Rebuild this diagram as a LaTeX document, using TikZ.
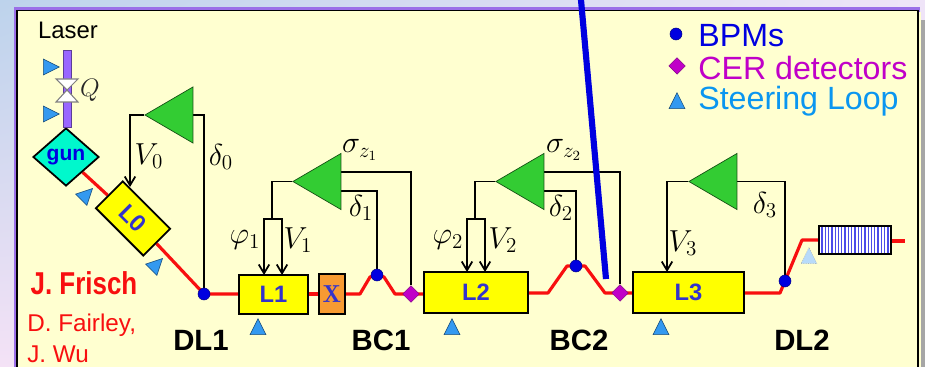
\documentclass[tikz,border=0pt]{standalone}
\usepackage{fontspec}
\usepackage{amsmath,amssymb}
\usepackage{xcolor}
\setmainfont{Liberation Sans}
\usetikzlibrary{arrows.meta,shapes.geometric,calc,backgrounds,shadings}
\definecolor{framefill}{HTML}{FFFFD0}
\definecolor{framelilac}{HTML}{9B6FE8}
\definecolor{gunteal}{HTML}{00F8CC}
\definecolor{laserviolet}{HTML}{9966FF}
\definecolor{ampgreen}{HTML}{33CC33}
\definecolor{steerblue}{HTML}{3399F0}
\definecolor{cavyellow}{HTML}{FFFF00}
\definecolor{xorange}{HTML}{F79A32}
\definecolor{labblue}{HTML}{3333CC}
\definecolor{beamred}{HTML}{F80F0F}
\definecolor{bpmblue}{HTML}{0000E0}
\definecolor{cerpurple}{HTML}{C000C8}
\definecolor{steertext}{HTML}{0A96F0}
\definecolor{slidetl}{HTML}{BDD3EC}
\definecolor{slidetr}{HTML}{EFE4F8}
\definecolor{slidebl}{HTML}{F4E2F6}

\begin{document}
\begin{tikzpicture}[
  x=0.02cm, y=-0.02cm,
  every node/.style={align=center},
  cavbox/.style={rectangle, draw=black, line width=1.1pt, fill=cavyellow,
                 font=\fontsize{13.5}{15}\selectfont\bfseries\color{labblue},
                 inner sep=0pt},
  ampbox/.style={isosceles triangle, isosceles triangle stretches, shape border rotate=180,
                 minimum height=0.96cm, minimum width=1.12cm, fill=ampgreen,
                 draw=black!60!ampgreen, line width=0.4pt, inner sep=0pt, anchor=apex},
  steerbox/.style={isosceles triangle, isosceles triangle stretches, minimum height=0.32cm,
                   minimum width=0.32cm, fill=steerblue, draw=black!50!steerblue,
                   line width=0.3pt, inner sep=0pt, anchor=apex},
  bpmdot/.style={circle, fill=bpmblue, draw=black!40!bpmblue, line width=0.3pt,
                 minimum size=0.24cm, inner sep=0pt},
  cerdiam/.style={diamond, fill=cerpurple, draw=black!30!cerpurple, line width=0.3pt,
                  minimum size=0.33cm, inner sep=0pt},
  beam/.style={draw=beamred, line width=1.8pt, line join=round},
  wire/.style={draw=black, line width=1pt},
  feed/.style={wire, ->},
  seclab/.style={font=\fontsize{16.7}{18}\selectfont\bfseries},
  maglab/.style={font=\fontsize{17}{19}\selectfont},
  keylab/.style={anchor=west, inner sep=0pt, font=\fontsize{18.3}{19}\selectfont},
  namelab/.style={anchor=west, inner sep=0pt, text=beamred, font=\fontsize{13.8}{15}\selectfont},
  >={Straight Barb[length=5pt,width=6pt]}
]
\useasboundingbox (0,0) rectangle (925,367);

% ---- Slide background and frame ---------------------------------------------
\begin{scope}[on background layer]
\shade[upper left=slidetl, upper right=slidetr, lower left=slidebl, lower right=slidetr]
  (0,0) rectangle (925,367);
\fill[gray!70] (921,20) rectangle (925,367);
\fill[framelilac] (14,7.5) rectangle (920,12);
\fill[framelilac] (14,7.5) rectangle (16.5,367);
\fill[framefill] (917,12) rectangle (920.5,367);
\draw[black, fill=framefill, line width=1.1pt] (17,10.5) rectangle (918,375);
\end{scope}

% ---- Laser and gun ----------------------------------------------------------
\node[font=\fontsize{13.6}{15}\selectfont] (laser) at (68,30) {Laser};
\node[diamond, draw=black, line width=1pt, fill=gunteal, minimum width=1.32cm,
      minimum height=1.16cm, inner sep=0pt,
      font=\fontsize{12}{14}\selectfont\bfseries\color{bpmblue}] (gun) at (66,157) {gun};
\coordinate (lasertop) at (67,50);
\draw[draw=black!40!laserviolet, fill=laserviolet, line width=0.3pt]
  ($(lasertop)+(-4,0)$) rectangle ($(gun.north)+(5,0)$);
\coordinate (waist) at (67,90);
\draw[fill=white, draw=gray, line width=0.6pt]
  (waist) -- ++(-11,-11) -- ++(22,0) -- cycle
  (waist) -- ++(-11,12) -- ++(22,0) -- cycle;
\node[font=\fontsize{14}{16}\selectfont, gray!30!black] (qlab) at (90,90) {$Q$};
\node[steerbox] (steerq) at (60,67) {};
\node[steerbox] (steerr) at (60,114) {};

% ---- Cavities and beam line -------------------------------------------------
\node[cavbox, minimum width=1.34cm, minimum height=0.76cm, rotate=-45] (Lzero) at (133,218.5) {L0};
\node[cavbox, minimum width=1.38cm, minimum height=0.78cm] (Lone) at (273.5,294.5) {L1};
\node[rectangle, draw=black, line width=1.1pt, fill=xorange, minimum width=0.52cm,
      minimum height=0.81cm, inner sep=0pt,
      font=\fontfamily{lmr}\fontsize{14}{16}\selectfont\bfseries\color{labblue}] (xband) at (332,294) {X};
\node[cavbox, minimum width=2.08cm, minimum height=0.82cm] (Ltwo) at (476,292.5) {L2};
\node[cavbox, minimum width=2.22cm, minimum height=0.82cm] (Lthree) at (688.5,292.5) {L3};
\node[rectangle, draw=black, line width=1.1pt, fill=white, minimum width=1.44cm,
      minimum height=0.56cm, inner sep=0pt] (undulator) at (855,240) {};
\foreach \i in {0,...,20}
  \draw[bpmblue!70, line width=0.75pt] (822+3.3*\i,227) -- (822+3.3*\i,253);
\coordinate (beamend) at (905,241);

\node[bpmdot] (bpmzero) at (204,294) {};
\node[bpmdot] (bpmone) at (377,275) {};
\node[bpmdot] (bpmtwo) at (576,266) {};
\node[bpmdot] (bpmthree) at (785,281) {};
\node[cerdiam] (cerone) at (411,294) {};
\node[cerdiam] (certwo) at (620,293) {};

\begin{scope}[on background layer]
\draw[beam] (gun) -- (Lzero);
\draw[beam] (Lzero) -- (bpmzero.center) -- (bpmzero.center -| Lone.west);
\draw[beam] (xband.west |- bpmzero.center) -- (Lone.east |- bpmzero.center);
\draw[beam] (xband.east |- bpmzero.center) -- ++(14,0) -- (370,277) -- (bpmone.center) -- (384,277)
  -- (395,294) -- (cerone.center) -- (Ltwo.west |- cerone.center);
\draw[beam] (Ltwo.east |- certwo.center) -- ++(19,0) -- (567,266) -- (bpmtwo.center) -- (585,266)
  -- (605,293) -- (certwo.center) -- (Lthree.west |- certwo.center);
\draw[beam] (Lthree.east |- certwo.center) -- (780,293) -- (802,240) -- (undulator.west);
\draw[beam] (undulator.east |- beamend) -- (beamend);
\end{scope}

% ---- Steering triangles -----------------------------------------------------
\node[steerbox, rotate=45] (steergun) at (93,188) {};
\node[steerbox, rotate=45] (steerlz) at (163,258) {};
\node[steerbox, shape border rotate=90] (steerone) at (258,318) {};
\node[steerbox, shape border rotate=90] (steertwo) at (452,318) {};
\node[steerbox, shape border rotate=90] (steerthree) at (661,318) {};
\node[steerbox, shape border rotate=90, fill=steerblue!35, draw=gray, densely dotted] (steerdl) at (809,247) {};

% ---- Feedback amplifiers ----------------------------------------------------
\node[ampbox] (ampzero) at (144,115) {};
\node[ampbox] (ampone) at (292,181.5) {};
\node[ampbox] (amptwo) at (495,181.5) {};
\node[ampbox] (ampthree) at (688,181.5) {};

% Inputs
\begin{scope}[on background layer]
\draw[wire] (bpmzero) |- (ampzero.east);
\coordinate (sigone) at (ampone.east |- 0,172);
\coordinate (delone) at (ampone.east |- 0,191);
\draw[wire] (cerone) |- (sigone);
\draw[wire] (bpmone) |- (delone);
\coordinate (sigtwo) at (amptwo.east |- 0,172);
\coordinate (deltwo) at (amptwo.east |- 0,191);
\draw[wire] (certwo) |- (sigtwo);
\draw[wire] (bpmtwo) |- (deltwo);
\draw[wire] (bpmthree) |- (ampthree.east);
\end{scope}

% Outputs
\coordinate (Vzero) at (130,187);
\draw[feed] (ampzero.apex) -| (Vzero);
\coordinate (splitone) at (272,219);
\draw[wire] (ampone.apex) -| (splitone);
\draw[feed] (splitone) -- ++(-8,0) -- ++(0,56);
\draw[feed] (splitone) -- ++(10,0) -- ++(0,56);
\coordinate (splittwo) at (475,219);
\draw[wire] (amptwo.apex) -| (splittwo);
\draw[feed] (splittwo) -- ++(-8,0) -- ++(0,53);
\draw[feed] (splittwo) -- ++(10,0) -- ++(0,53);
\coordinate (Vthree) at (667,272);
\draw[feed] (ampthree.apex) -| (Vthree);

% ---- Symbols ----------------------------------------------------------------
\node[maglab] (Vzerolab) at (149,156) {$V_0$};
\node[maglab] (dzerolab) at (221,157) {$\delta_0$};
\node[maglab] (phionelab) at (245,240) {$\varphi_1$};
\node[maglab] (Vonelab) at (298,240) {$V_1$};
\node[maglab] (sonelab) at (360,150) {$\sigma_{z_1}$};
\node[maglab] (donelab) at (361,208) {$\delta_1$};
\node[maglab] (phitwolab) at (448,240) {$\varphi_2$};
\node[maglab] (Vtwolab) at (503,240) {$V_2$};
\node[maglab] (stwolab) at (564,150) {$\sigma_{z_2}$};
\node[maglab] (dtwolab) at (561,208) {$\delta_2$};
\node[maglab] (dthreelab) at (765,205) {$\delta_3$};
\node[maglab] (Vthreelab) at (683,243) {$V_3$};

% ---- Section names and credits ----------------------------------------------
\node[seclab] (dlone) at (201,340) {DL1};
\node[seclab] (bcone) at (381,340) {BC1};
\node[seclab] (bctwo) at (579,340) {BC2};
\node[seclab] (dltwo) at (802,340) {DL2};
\node[font=\fontsize{18}{20}\selectfont\bfseries, text=beamred, xscale=0.82] (frisch) at (84,283) {J. Frisch};
\node[namelab] (fairley) at (27,325) {D. Fairley,};
\node[namelab] (wu) at (27,354) {J. Wu};

% ---- Legend -----------------------------------------------------------------
\node[bpmdot] (keybpm) at (676,34) {};
\node[cerdiam] (keycer) at (677,66) {};
\node[steerbox, shape border rotate=90] (keysteer) at (677,92) {};
\node[keylab, text=bpmblue] (bpmtext) at (698,36) {BPMs};
\node[keylab, text=cerpurple] (certext) at (698,68) {CER detectors};
\node[keylab, text=steertext] (steertext) at (698,101) {Steering Loop};

% ---- Overlaid stroke --------------------------------------------------------
\coordinate (striketop) at (581,0);
\coordinate (strikeend) at (606,279);
\draw[bpmblue, line width=3.5pt] (striketop) -- (strikeend);

\end{tikzpicture}
\end{document}
